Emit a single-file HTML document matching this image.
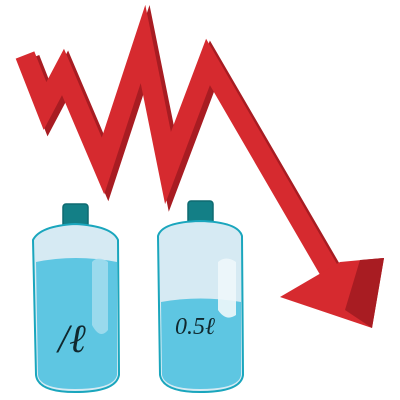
<!DOCTYPE html>
<html><head><meta charset="utf-8"><style>html,body{margin:0;padding:0;background:#fff}svg{display:block}</style></head>
<body>
<svg width="400" height="400" viewBox="0 0 400 400">
<g>
<polyline points="25,55 45,106 63,72 103,166 143,44 168,168 208,62 330,272" fill="none" stroke="#a81c22" stroke-width="22" stroke-linejoin="miter" stroke-miterlimit="10" transform="translate(4,4)"/>
<polyline points="25,55 45,106 63,72 103,166 143,44 168,168 208,62 330,272" fill="none" stroke="#d62a2f" stroke-width="20" stroke-linejoin="miter" stroke-miterlimit="10"/>
<polygon points="340,262 384,258 372,328 280,297" fill="#d62a2f"/>
<polygon points="360,260 384,258 372,328 345,310" fill="#a81c22"/>
</g>
<g>
<rect x="63" y="204" width="25" height="28" rx="3" fill="#137f86" stroke="#0e6a70" stroke-width="1.5"/>
<path d="M33,240 Q40,226 75,224 Q112,226 118,240 L119,375 Q116,392 75,392 Q38,392 36,375 Z" fill="#d6eaf3" stroke="#1aa6bd" stroke-width="2"/>
<path d="M36,262 Q75,254 117,262 L117,375 Q114,389 75,389 Q40,389 38,375 Z" fill="#5ec6e2"/>
<path d="M92,262 Q98,255 108,262 L108,330 Q100,340 92,325 Z" fill="#a9def0" opacity="0.8"/>
<text x="58" y="352" font-family="Liberation Serif, serif" font-style="italic" font-size="40" fill="#10282e">/ℓ</text>
</g>
<g>
<rect x="188" y="201" width="25" height="27" rx="3" fill="#137f86" stroke="#0e6a70" stroke-width="1.5"/>
<path d="M158,236 Q162,222 200,221 Q238,222 242,236 L243,375 Q241,392 200,392 Q163,392 160,375 Z" fill="#d6eaf3" stroke="#1aa6bd" stroke-width="2"/>
<path d="M161,302 Q200,295 241,302 L241,375 Q239,389 200,389 Q165,389 162,375 Z" fill="#5ec6e2"/>
<path d="M218,262 Q226,255 236,262 L236,315 Q226,322 218,310 Z" fill="#eef7fb" opacity="0.9"/>
<text x="175" y="334" font-family="Liberation Serif, serif" font-style="italic" font-size="24" fill="#10282e">0.5ℓ</text>
</g>
</svg>
</body></html>
